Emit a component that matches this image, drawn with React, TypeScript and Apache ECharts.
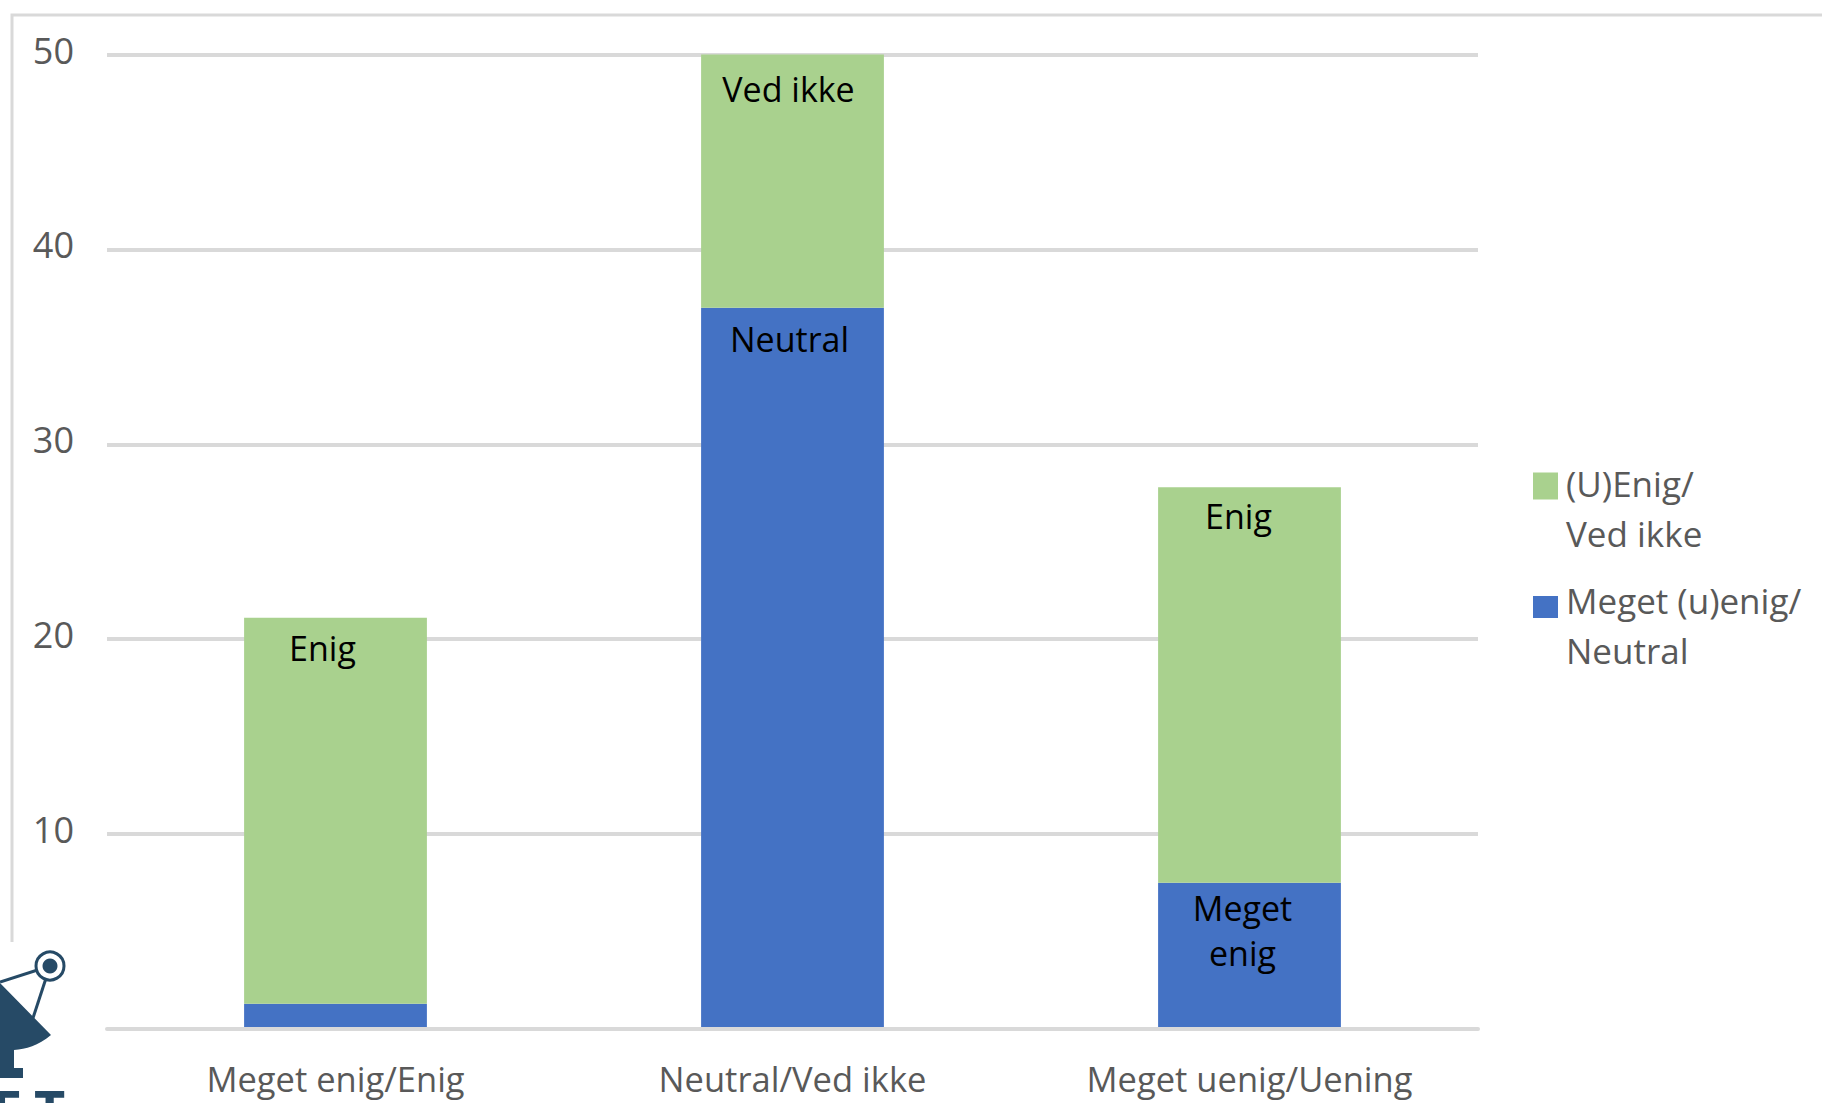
import React, { useEffect, useRef } from "react";
import * as echarts from "echarts";

const categories = ["Meget enig/Enig", "Neutral/Ved ikke", "Meget uenig/Uening"];
const blueValues = [1.3, 37, 7.5];
const greenValues = [19.8, 13, 20.3];
const blueLabels = ["", "Neutral", "Meget\nenig"];
const greenLabels = ["Enig", "Ved ikke", "Enig"];
const blueName = "Meget (u)enig/\nNeutral";
const greenName = "(U)Enig/\nVed ikke";

const BLUE = "#4472c4";
const GREEN = "#a9d18e";
const GREY = "#d9d9d9";
const INK = "#595959";
const NAVY = "#264a66";
const FONT = "'Open Sans', sans-serif";

// Dish and pedestal of the corner emblem, in page pixels.
const dishPath =
  "M0 983 L51 1035 C38 1046 26 1049 14 1050 L14 1068 L23 1068 L23 1078 L0 1078 Z";
echarts.graphic.registerShape("dishBody", echarts.graphic.extendPath(dishPath, {}) as any);

const barLabel = (text: string, offset: number[]) => ({
  show: text !== "",
  formatter: text,
  position: "insideTop",
  offset,
  color: "#000000",
  fontFamily: FONT,
  fontSize: 34,
  lineHeight: 45,
});

const blueOffsets = [[0, 0], [-3, 4], [-7, -2]];
const greenOffsets = [[-13, 3], [-4, 7], [-11, 1]];

export default function App() {
  const ref = useRef<HTMLDivElement>(null);

  useEffect(() => {
    document.body.style.margin = "0";
    const chart = echarts.init(ref.current!, null, { renderer: "svg" });
    chart.setOption({
      animation: false,
      backgroundColor: "#ffffff",
      grid: { left: 107, right: 344, top: 54.5, bottom: 74 },
      legend: {
        orient: "vertical",
        left: 1528,
        top: 453,
        itemGap: 17,
        itemWidth: 25,
        itemHeight: 71,
        selectedMode: false,
        // The swatches sit level with the first text line: each icon's box is taller than its square.
        textStyle: { color: INK, fontFamily: FONT, fontSize: 35, lineHeight: 50, padding: [0, 0, 0, 3] },
        data: [
          { name: greenName, icon: "path://M0 0H25V27H0Z M0 71L0 71Z" },
          { name: blueName, icon: "path://M0 0L0 0 M0 6.5H25V28.5H0Z M0 71L0 71Z" },
        ],
      },
      xAxis: {
        type: "category",
        data: categories,
        z: 3,
        axisTick: { show: false },
        axisLine: { lineStyle: { color: GREY, width: 4 } },
        axisLabel: { color: INK, fontFamily: FONT, fontSize: 34.5, margin: 32 },
      },
      yAxis: {
        type: "value",
        min: 0,
        max: 50,
        interval: 10,
        axisLine: { show: false },
        axisTick: { show: false },
        splitLine: { lineStyle: { color: GREY, width: 4 } },
        axisLabel: {
          color: INK,
          fontFamily: FONT,
          fontSize: 36,
          margin: 33,
          showMinLabel: false,
          verticalAlign: "bottom",
          lineHeight: 9,
        },
      },
      series: [
        {
          name: blueName,
          type: "bar",
          stack: "total",
          barWidth: "40%",
          itemStyle: { color: BLUE },
          data: blueValues.map((value, i) => ({ value, label: barLabel(blueLabels[i], blueOffsets[i]) })),
        },
        {
          name: greenName,
          type: "bar",
          stack: "total",
          barWidth: "40%",
          itemStyle: { color: GREEN },
          data: greenValues.map((value, i) => ({ value, label: barLabel(greenLabels[i], greenOffsets[i]) })),
        },
      ],
      graphic: [
        {
          type: "polyline",
          shape: { points: [[12, 942], [12, 15], [1822, 15]] },
          style: { stroke: GREY, lineWidth: 3, fill: "none" },
        },
        { type: "dishBody", style: { fill: NAVY } },
        { type: "line", shape: { x1: 50, y1: 966, x2: 0, y2: 982 }, style: { stroke: NAVY, lineWidth: 3 } },
        { type: "line", shape: { x1: 50, y1: 966, x2: 33, y2: 1018 }, style: { stroke: NAVY, lineWidth: 3 } },
        { type: "circle", shape: { cx: 50, cy: 966, r: 14 }, style: { fill: "#ffffff", stroke: NAVY, lineWidth: 3 } },
        { type: "circle", shape: { cx: 50, cy: 966, r: 7.5 }, style: { fill: NAVY } },
        {
          type: "text",
          x: -8,
          y: 1082,
          style: { text: "E", fill: NAVY, fontFamily: FONT, fontWeight: "bold", fontSize: 54 },
        },
        {
          type: "text",
          x: 34,
          y: 1082,
          style: { text: "T", fill: NAVY, fontFamily: FONT, fontWeight: "bold", fontSize: 54 },
        },
      ],
    });
    return () => chart.dispose();
  }, []);

  return <div ref={ref} style={{ position: "absolute", left: 0, top: 0, width: 1822, height: 1103 }} />;
}
